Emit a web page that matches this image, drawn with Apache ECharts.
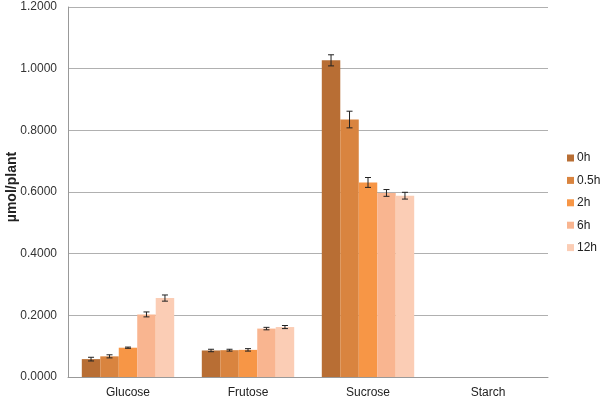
<!DOCTYPE html>
<html><head><meta charset="utf-8">
<script src="https://cdn.jsdelivr.net/npm/echarts@6/dist/echarts.min.js"></script>
<style>html,body{margin:0;padding:0;background:#fff}#c{width:600px;height:400px}</style>
</head><body><div id="c"></div>
<script>
var categories = ['Glucose', 'Frutose', 'Sucrose', 'Starch'];
var seriesNames = ['0h', '0.5h', '2h', '6h', '12h'];
var colors = ['#B86E34', '#D9843F', '#F79646', '#F9B590', '#FBCDB5'];
var v0h   = [0.058, 0.086, 1.027, 0];
var v05h  = [0.067, 0.087, 0.835, 0];
var v2h   = [0.095, 0.088, 0.631, 0];
var v6h   = [0.203, 0.157, 0.597, 0];
var v12h  = [0.256, 0.162, 0.588, 0];
var e0h   = [0.006, 0.004, 0.018, null];
var e05h  = [0.005, 0.003, 0.027, null];
var e2h   = [0.002, 0.004, 0.016, null];
var e6h   = [0.008, 0.004, 0.011, null];
var e12h  = [0.010, 0.005, 0.011, null];
var yTicks = [0, 0.2, 0.4, 0.6, 0.8, 1.0, 1.2];

var values = [v0h, v05h, v2h, v6h, v12h];
var errors = [e0h, e05h, e2h, e6h, e12h];
var nS = values.length;
var catGap = 0.23;

var series = [];
values.forEach(function (vals, si) {
  series.push({
    name: seriesNames[si], type: 'bar', data: vals,
    itemStyle: { color: colors[si] }, barGap: '0%', barCategoryGap: '23%',
    emphasis: { disabled: true }
  });
});
values.forEach(function (vals, si) {
  var data = [];
  vals.forEach(function (v, ci) {
    if (errors[si][ci] != null) data.push([ci, v - errors[si][ci], v + errors[si][ci]]);
  });
  series.push({
    type: 'custom', name: seriesNames[si] + ' err', z: 10, silent: true,
    data: data,
    renderItem: function (params, api) {
      var ci = api.value(0);
      var lo = api.coord([ci, api.value(1)]);
      var hi = api.coord([ci, api.value(2)]);
      var bandW = api.size([1, 0])[0];
      var groupW = bandW * (1 - catGap);
      var barW = groupW / nS;
      var x = lo[0] - groupW / 2 + barW * (si + 0.5);
      var cap = 3;
      var st = { stroke: '#222', lineWidth: 1 };
      return { type: 'group', children: [
        { type: 'line', shape: { x1: x, y1: lo[1], x2: x, y2: hi[1] }, style: st },
        { type: 'line', shape: { x1: x - cap, y1: lo[1], x2: x + cap, y2: lo[1] }, style: st },
        { type: 'line', shape: { x1: x - cap, y1: hi[1], x2: x + cap, y2: hi[1] }, style: st }
      ]};
    }
  });
});

var chart = echarts.init(document.getElementById('c'), null, { renderer: 'canvas' });
chart.setOption({
  animation: false,
  backgroundColor: '#fff',
  textStyle: { fontFamily: 'Liberation Sans, Arial, sans-serif' },
  grid: { left: 68, right: 52, top: 7, bottom: 23, containLabel: false, outerBoundsMode: 'none' },
  legend: {
    data: seriesNames, orient: 'vertical', left: 562, top: 147,
    itemWidth: 7, itemHeight: 7, itemGap: 10.4, icon: 'rect',
    textStyle: { fontSize: 12, color: '#222', padding: [0, 0, 0, -2] }
  },
  xAxis: {
    type: 'category', data: categories,
    axisLine: { lineStyle: { color: '#999', width: 1 } },
    axisTick: { show: false },
    axisLabel: { fontSize: 12, color: '#222', margin: 10 }
  },
  yAxis: {
    type: 'value', min: 0, max: 1.2, interval: 0.2,
    name: 'µmol/plant', nameLocation: 'middle', nameGap: 49, nameMoveOverlap: false,
    nameTextStyle: { fontSize: 14, fontWeight: 'bold', color: '#222', padding: [0, 0, 0, 10] },
    axisLine: { show: true, lineStyle: { color: '#999' } },
    axisTick: { show: false },
    axisLabel: { fontSize: 12, color: '#333', margin: 11, formatter: function (v) { return v.toFixed(4); } },
    splitLine: { lineStyle: { color: '#B0B0B0', width: 1 } }
  },
  series: series
});
</script></body></html>
